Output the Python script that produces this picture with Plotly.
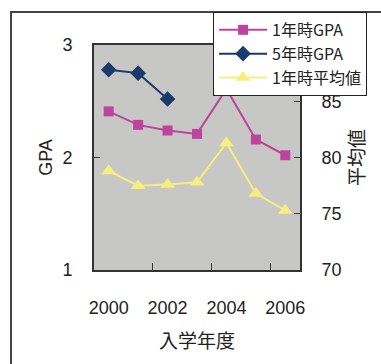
import plotly.graph_objects as go

years = [2000, 2001, 2002, 2003, 2004, 2005, 2006]
gpa_1st = [2.41, 2.29, 2.24, 2.21, 2.61, 2.16, 2.02]
years_5th = [2000, 2001, 2002]
gpa_5th = [2.78, 2.75, 2.52]
avg_1st = [78.8, 77.5, 77.6, 77.8, 81.3, 76.8, 75.3]

x_ticks = [2000, 2002, 2004, 2006]
x_minor = [2001.5, 2003.5, 2005.5]
gpa_ticks = [1, 2, 3]
avg_ticks = [70, 75, 80, 85]

FONT = "Liberation Sans, Arial, Noto Sans CJK JP"
AX = "#333333"

fig = go.Figure()
fig.add_trace(go.Scatter(
    x=years, y=gpa_1st, name="1年時GPA", mode="lines+markers",
    line=dict(color="#BE449B", width=2),
    marker=dict(symbol="square", size=10, color="#BE449B"),
))
fig.add_trace(go.Scatter(
    x=years_5th, y=gpa_5th, name="5年時GPA", mode="lines+markers",
    line=dict(color="#1B3A6C", width=2),
    marker=dict(symbol="diamond", size=12, color="#1B3A6C"),
))
fig.add_trace(go.Scatter(
    x=years, y=avg_1st, name="1年時平均値", mode="lines+markers", yaxis="y2",
    line=dict(color="#F6EE7E", width=2),
    marker=dict(symbol="triangle-up", size=13, color="#F6EE7E"),
))

fig.update_layout(
    width=381, height=364,
    margin=dict(l=94, r=81, t=45, b=94),
    paper_bgcolor="white",
    plot_bgcolor="#C7C7C5",
    font=dict(family=FONT, size=18, color="#222222"),
    showlegend=True,
    legend=dict(
        x=0.578, y=1.147, xanchor="left", yanchor="top",
        bgcolor="white", bordercolor="#222222", borderwidth=1,
        font=dict(family="Noto Sans CJK JP", size=16, color="#222222"),
        itemwidth=48, tracegroupgap=0,
    ),
    xaxis=dict(
        range=[1999.5, 2006.5],
        tickvals=x_ticks, ticktext=[str(v) for v in x_ticks],
        ticks="inside", ticklen=0,
        minor=dict(tickvals=x_minor, ticks="inside", ticklen=7, tickcolor=AX, tickwidth=1),
        showgrid=False, zeroline=False,
        showline=True, linecolor=AX, linewidth=2, mirror=True,
        ticklabelstandoff=20,
        tickfont=dict(size=18),
        title=dict(text="入学年度", font=dict(family="Noto Sans CJK JP", size=19), standoff=18),
    ),
    yaxis=dict(
        range=[1, 3], tickvals=gpa_ticks,
        ticks="inside", ticklen=6, tickcolor=AX, tickwidth=1,
        showgrid=False, zeroline=False,
        showline=True, linecolor=AX, linewidth=2, mirror=True,
        ticklabelstandoff=16,
        tickfont=dict(size=18),
        title=dict(text="GPA", font=dict(size=18), standoff=5),
    ),
    yaxis2=dict(
        range=[70, 90], tickvals=avg_ticks, overlaying="y", side="right",
        ticks="inside", ticklen=6, tickcolor=AX, tickwidth=1,
        showgrid=False, zeroline=False,
        showline=True, linecolor=AX, linewidth=2,
        ticklabelstandoff=16,
        tickfont=dict(size=18),
        title=dict(text="平均値", font=dict(family="Noto Sans CJK JP", size=19), standoff=6),
    ),
    shapes=[dict(
        type="rect", xref="paper", yref="paper",
        x0=(11 - 94) / 206, x1=1.6, y0=-0.6, y1=1 + (45 - 12) / 225,
        line=dict(color="#444444", width=2), fillcolor="rgba(0,0,0,0)", layer="below",
    )],
)

fig.write_html("out.html")
